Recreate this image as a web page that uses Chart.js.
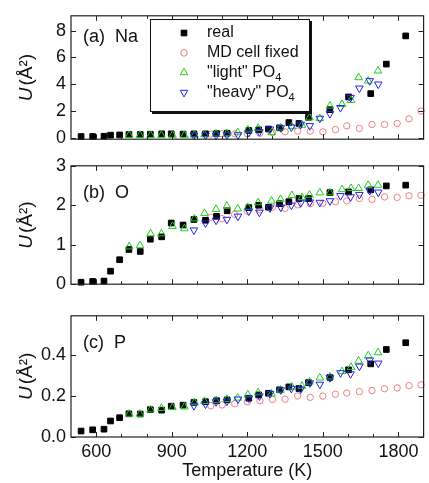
<!DOCTYPE html>
<html>
<head>
<meta charset="utf-8">
<script src="https://cdn.jsdelivr.net/npm/chart.js"></script>
<style>
  body { margin: 0; background: #fff; }
  .panel { position: absolute; left: 0; }
</style>
</head>
<body>
<div class="panel" style="top:0px"><canvas id="chartNa" width="429" height="155"></canvas></div>
<div class="panel" style="top:150px"><canvas id="chartO" width="429" height="150"></canvas></div>
<div class="panel" style="top:300px"><canvas id="chartP" width="429" height="183"></canvas></div>
<script>
// temperatures (K) of each run
const tempReal = [540, 586, 631, 657, 693, 730, 775, 815, 860, 898, 945, 988, 1034, 1078, 1120, 1206, 1245, 1284, 1328, 1365, 1405, 1443, 1528, 1602, 1690, 1752, 1829];
const tempFixed = [1055, 1100, 1150, 1200, 1250, 1300, 1350, 1400, 1450, 1500, 1550, 1595, 1645, 1695, 1745, 1795, 1842, 1890];
const tempLight = [731, 774, 816, 859, 903, 950, 990, 1030, 1076, 1119, 1162, 1202, 1243, 1296, 1332, 1377, 1417, 1447, 1488, 1528, 1576, 1612, 1642, 1680, 1719];
const tempHeavy = [988, 1034, 1076, 1119, 1163, 1206, 1248, 1290, 1333, 1375, 1412, 1448, 1488, 1528, 1570, 1610, 1645, 1686, 1720];

// (a) Na
const naReal = [0.1, 0.1, 0.12, 0.2, 0.22, 0.25, 0.25, 0.27, 0.3, 0.3, 0.28, 0.3, 0.3, 0.32, 0.35, 0.55, 0.6, 0.66, 0.75, 1.14, 1.07, 1.53, 2.1, 3.05, 3.3, 5.5, 7.6];
const naFixed = [0.28, 0.3, 0.3, 0.32, 0.35, 0.4, 0.45, 0.5, 0.5, 0.45, 0.62, 0.9, 0.7, 1.0, 1.0, 1.07, 1.42, 2.0];
const naLight = [0.2, 0.2, 0.2, 0.2, 0.2, 0.2, 0.22, 0.25, 0.3, 0.32, 0.4, 0.6, 0.73, 0.4, 0.75, 0.85, 0.95, 1.5, 1.45, 2.38, 2.5, 2.8, 4.5, 4.25, 5.0];
const naHeavy = [0.2, 0.2, 0.2, 0.22, 0.22, 0.4, 0.45, 0.65, 0.75, 0.8, 1.0, 0.9, 1.45, 1.8, 2.25, 3.0, 3.7, 4.25, 4.0];

// (b) O
const oReal = [0.05, 0.07, 0.08, 0.33, 0.62, 0.88, 0.83, 1.14, 1.2, 1.55, 1.5, 1.64, 1.62, 1.72, 1.86, 1.94, 2.0, 1.95, 2.04, 2.09, 2.17, 2.17, 2.32, 2.34, 2.39, 2.49, 2.51];
const oFixed = [1.7, 1.66, 1.77, 1.85, 1.89, 1.95, 1.92, 2.01, 2.04, 2.05, 2.09, 2.11, 2.17, 2.15, 2.21, 2.2, 2.24, 2.25];
const oLight = [0.95, 0.98, 1.28, 1.28, 1.47, 1.41, 1.66, 1.8, 1.9, 1.98, 1.91, 1.95, 2.07, 2.11, 2.15, 2.25, 2.2, 2.26, 2.32, 2.32, 2.4, 2.43, 2.43, 2.51, 2.51];
const oHeavy = [1.37, 1.55, 1.62, 1.64, 1.72, 1.85, 1.82, 1.93, 1.95, 2.0, 2.06, 2.08, 2.07, 2.11, 2.24, 2.21, 2.27, 2.37, 2.33];

// (c) P
const pReal = [0.029, 0.035, 0.038, 0.078, 0.094, 0.113, 0.112, 0.133, 0.131, 0.15, 0.155, 0.168, 0.172, 0.177, 0.181, 0.189, 0.205, 0.213, 0.23, 0.244, 0.236, 0.265, 0.29, 0.327, 0.356, 0.426, 0.459];
const pFixed = [0.152, 0.156, 0.162, 0.171, 0.177, 0.183, 0.184, 0.2, 0.193, 0.199, 0.208, 0.214, 0.221, 0.226, 0.235, 0.239, 0.25, 0.254];
const pLight = [0.112, 0.112, 0.133, 0.14, 0.144, 0.147, 0.168, 0.174, 0.178, 0.184, 0.19, 0.206, 0.216, 0.21, 0.229, 0.244, 0.248, 0.268, 0.288, 0.293, 0.319, 0.34, 0.37, 0.396, 0.411];
const pHeavy = [0.152, 0.16, 0.171, 0.174, 0.184, 0.189, 0.199, 0.211, 0.229, 0.236, 0.233, 0.263, 0.256, 0.288, 0.312, 0.307, 0.344, 0.374, 0.359];

const xTicks = [600, 900, 1200, 1500, 1800];
const naTicks = [0, 2, 4, 6, 8];
const oTicks = [0, 1, 2, 3];
const pTicks = [0, 0.2, 0.4];
const seriesNames = ['real', 'MD cell fixed', '"light" PO', '"heavy" PO'];

const FONT = '"Liberation Sans", Arial, Helvetica, sans-serif';
const styles = [
    { pointStyle: 'rect', pointRadius: 4, pointRotation: 0, borderColor: '#000', backgroundColor: '#000', order: 3 },
    { pointStyle: 'circle', pointRadius: 3.2, pointRotation: 0, borderColor: '#f08080', backgroundColor: 'rgba(0,0,0,0)', order: 4 },
    { pointStyle: 'triangle', pointRadius: 4.4, pointRotation: 0, borderColor: '#22cc22', backgroundColor: 'rgba(0,0,0,0)', order: 2 },
    { pointStyle: 'triangle', pointRadius: 4.4, pointRotation: 180, borderColor: '#2222ee', backgroundColor: 'rgba(0,0,0,0)', order: 1 }
];

function pts(xs, ys) {
    let out = [];
    for (let i = 0; i < xs.length; i++) out.push({ x: xs[i], y: ys[i] });
    return out;
}

const panelDecor = {
    id: 'panelDecor',
    afterDraw(chart, args, opts) {
        const ctx = chart.ctx;
        const a = chart.chartArea;
        const xs = chart.scales.x, ys = chart.scales.y;
        ctx.save();
        ctx.strokeStyle = '#222';
        ctx.lineWidth = 1.2;
        ctx.strokeRect(a.left, a.top, a.right - a.left, a.bottom - a.top);
        // inward ticks
        ctx.lineWidth = 1;
        ctx.beginPath();
        for (let t = 600; t <= 1800; t += 100) {
            const px = Math.round(xs.getPixelForValue(t)) + 0.5;
            const len = (t % 300 === 0) ? 5 : 3;
            ctx.moveTo(px, a.bottom); ctx.lineTo(px, a.bottom - len);
            ctx.moveTo(px, a.top); ctx.lineTo(px, a.top + len);
        }
        opts.yTicks.forEach(v => {
            const py = Math.round(ys.getPixelForValue(v)) + 0.5;
            ctx.moveTo(a.left, py); ctx.lineTo(a.left + 5, py);
            ctx.moveTo(a.right, py); ctx.lineTo(a.right - 5, py);
        });
        ctx.stroke();

        // panel label
        ctx.fillStyle = '#111';
        ctx.font = '18px ' + FONT;
        ctx.textBaseline = 'middle';
        ctx.textAlign = 'left';
        ctx.fillText(opts.label, 83, a.top + opts.labelDy);

        // y title: U (Å²)
        const cy = (a.top + a.bottom) / 2;
        ctx.translate(27, cy);
        ctx.rotate(-Math.PI / 2);
        ctx.font = 'italic 19px ' + FONT;
        const w1 = ctx.measureText('U').width;
        ctx.font = '19px ' + FONT;
        const w2 = ctx.measureText('(Å²)').width;
        const x0 = -(w1 + w2 + 2) / 2;
        ctx.font = 'italic 19px ' + FONT;
        ctx.fillText('U', x0, 0);
        ctx.font = '19px ' + FONT;
        ctx.fillText('(Å²)', x0 + w1 + 2, 0);
        ctx.restore();

        if (opts.legend) drawLegend(chart);
    }
};

function drawLegend(chart) {
    const ctx = chart.ctx;
    ctx.save();
    ctx.fillStyle = '#111';
    ctx.fillRect(152, 21, 160, 93);
    ctx.fillStyle = '#fff';
    ctx.fillRect(150, 19, 160, 93);
    ctx.strokeStyle = '#111';
    ctx.lineWidth = 1;
    ctx.strokeRect(150.5, 19.5, 159, 92);
    const rows = [33, 53, 72.5, 92.5];
    for (let i = 0; i < seriesNames.length; i++) {
        const s = styles[i];
        ctx.fillStyle = s.backgroundColor;
        ctx.strokeStyle = s.borderColor;
        ctx.lineWidth = 1;
        Chart.helpers.drawPoint(ctx, { pointStyle: s.pointStyle, radius: s.pointRadius, rotation: s.pointRotation, borderWidth: 1 }, 184, rows[i]);
        ctx.fillStyle = '#111';
        ctx.font = '16px ' + FONT;
        ctx.textBaseline = 'middle';
        ctx.textAlign = 'left';
        ctx.fillText(seriesNames[i], 207, rows[i]);
        if (i >= 2) {
            const w = ctx.measureText(seriesNames[i]).width;
            ctx.font = '11px ' + FONT;
            ctx.fillText('4', 207 + w, rows[i] + 5);
        }
    }
    ctx.restore();
}

function makePanel(id, real, fixed, light, heavy, yMin, yMax, yTicks, digits, opts) {
    const data = [pts(tempReal, real), pts(tempFixed, fixed), pts(tempLight, light), pts(tempHeavy, heavy)];
    const datasets = data.map((d, i) => Object.assign({
        label: seriesNames[i],
        data: d,
        borderWidth: 1,
        pointBorderWidth: 1,
        clip: false
    }, styles[i]));
    const config = {
        type: 'scatter',
        data: { datasets: datasets },
        options: {
            responsive: false,
            animation: false,
            devicePixelRatio: 1,
            layout: { padding: opts.padding },
            plugins: {
                legend: { display: false },
                tooltip: { enabled: false },
                panelDecor: { label: opts.label, labelDy: opts.labelDy, yTicks: yTicks, legend: opts.legend }
            },
            scales: {
                x: {
                    type: 'linear', min: 500, max: 1900,
                    display: opts.showX,
                    grid: { display: false, drawTicks: false },
                    border: { display: false },
                    afterBuildTicks: s => { s.ticks = xTicks.map(v => ({ value: v })); },
                    afterFit: s => { s.height = opts.showX ? 46 : 0; },
                    ticks: { color: '#111', padding: 4, font: { size: 18, family: FONT }, callback: v => String(v) },
                    title: { display: true, text: 'Temperature (K)', color: '#111', padding: { top: 0, bottom: 1 }, font: { size: 18, family: FONT } }
                },
                y: {
                    type: 'linear', min: yMin, max: yMax,
                    grid: { display: false, drawTicks: false },
                    border: { display: false },
                    afterBuildTicks: s => { s.ticks = yTicks.map(v => ({ value: v })); },
                    afterFit: s => { s.width = 71; },
                    ticks: {
                        color: '#111', padding: 5, font: { size: 18, family: FONT },
                        callback: v => Number(v).toFixed(digits)
                    }
                }
            }
        },
        plugins: [panelDecor]
    };
    return new Chart(document.getElementById(id).getContext('2d'), config);
}

makePanel('chartNa', naReal, naFixed, naLight, naHeavy, -0.1, 9.1, naTicks, 0,
    { padding: { top: 13, bottom: 8, left: 0, right: 1 }, showX: false, label: '(a)  Na', labelDy: 21, legend: true });
makePanel('chartO', oReal, oFixed, oLight, oHeavy, 0, 3, oTicks, 0,
    { padding: { top: 10, bottom: 8, left: 0, right: 1 }, showX: false, label: '(b)  O', labelDy: 27, legend: false });
makePanel('chartP', pReal, pFixed, pLight, pHeavy, 0, 0.59, pTicks, 1,
    { padding: { top: 5, bottom: 0, left: 0, right: 1 }, showX: true, label: '(c)  P', labelDy: 27, legend: false });
</script>
</body>
</html>
